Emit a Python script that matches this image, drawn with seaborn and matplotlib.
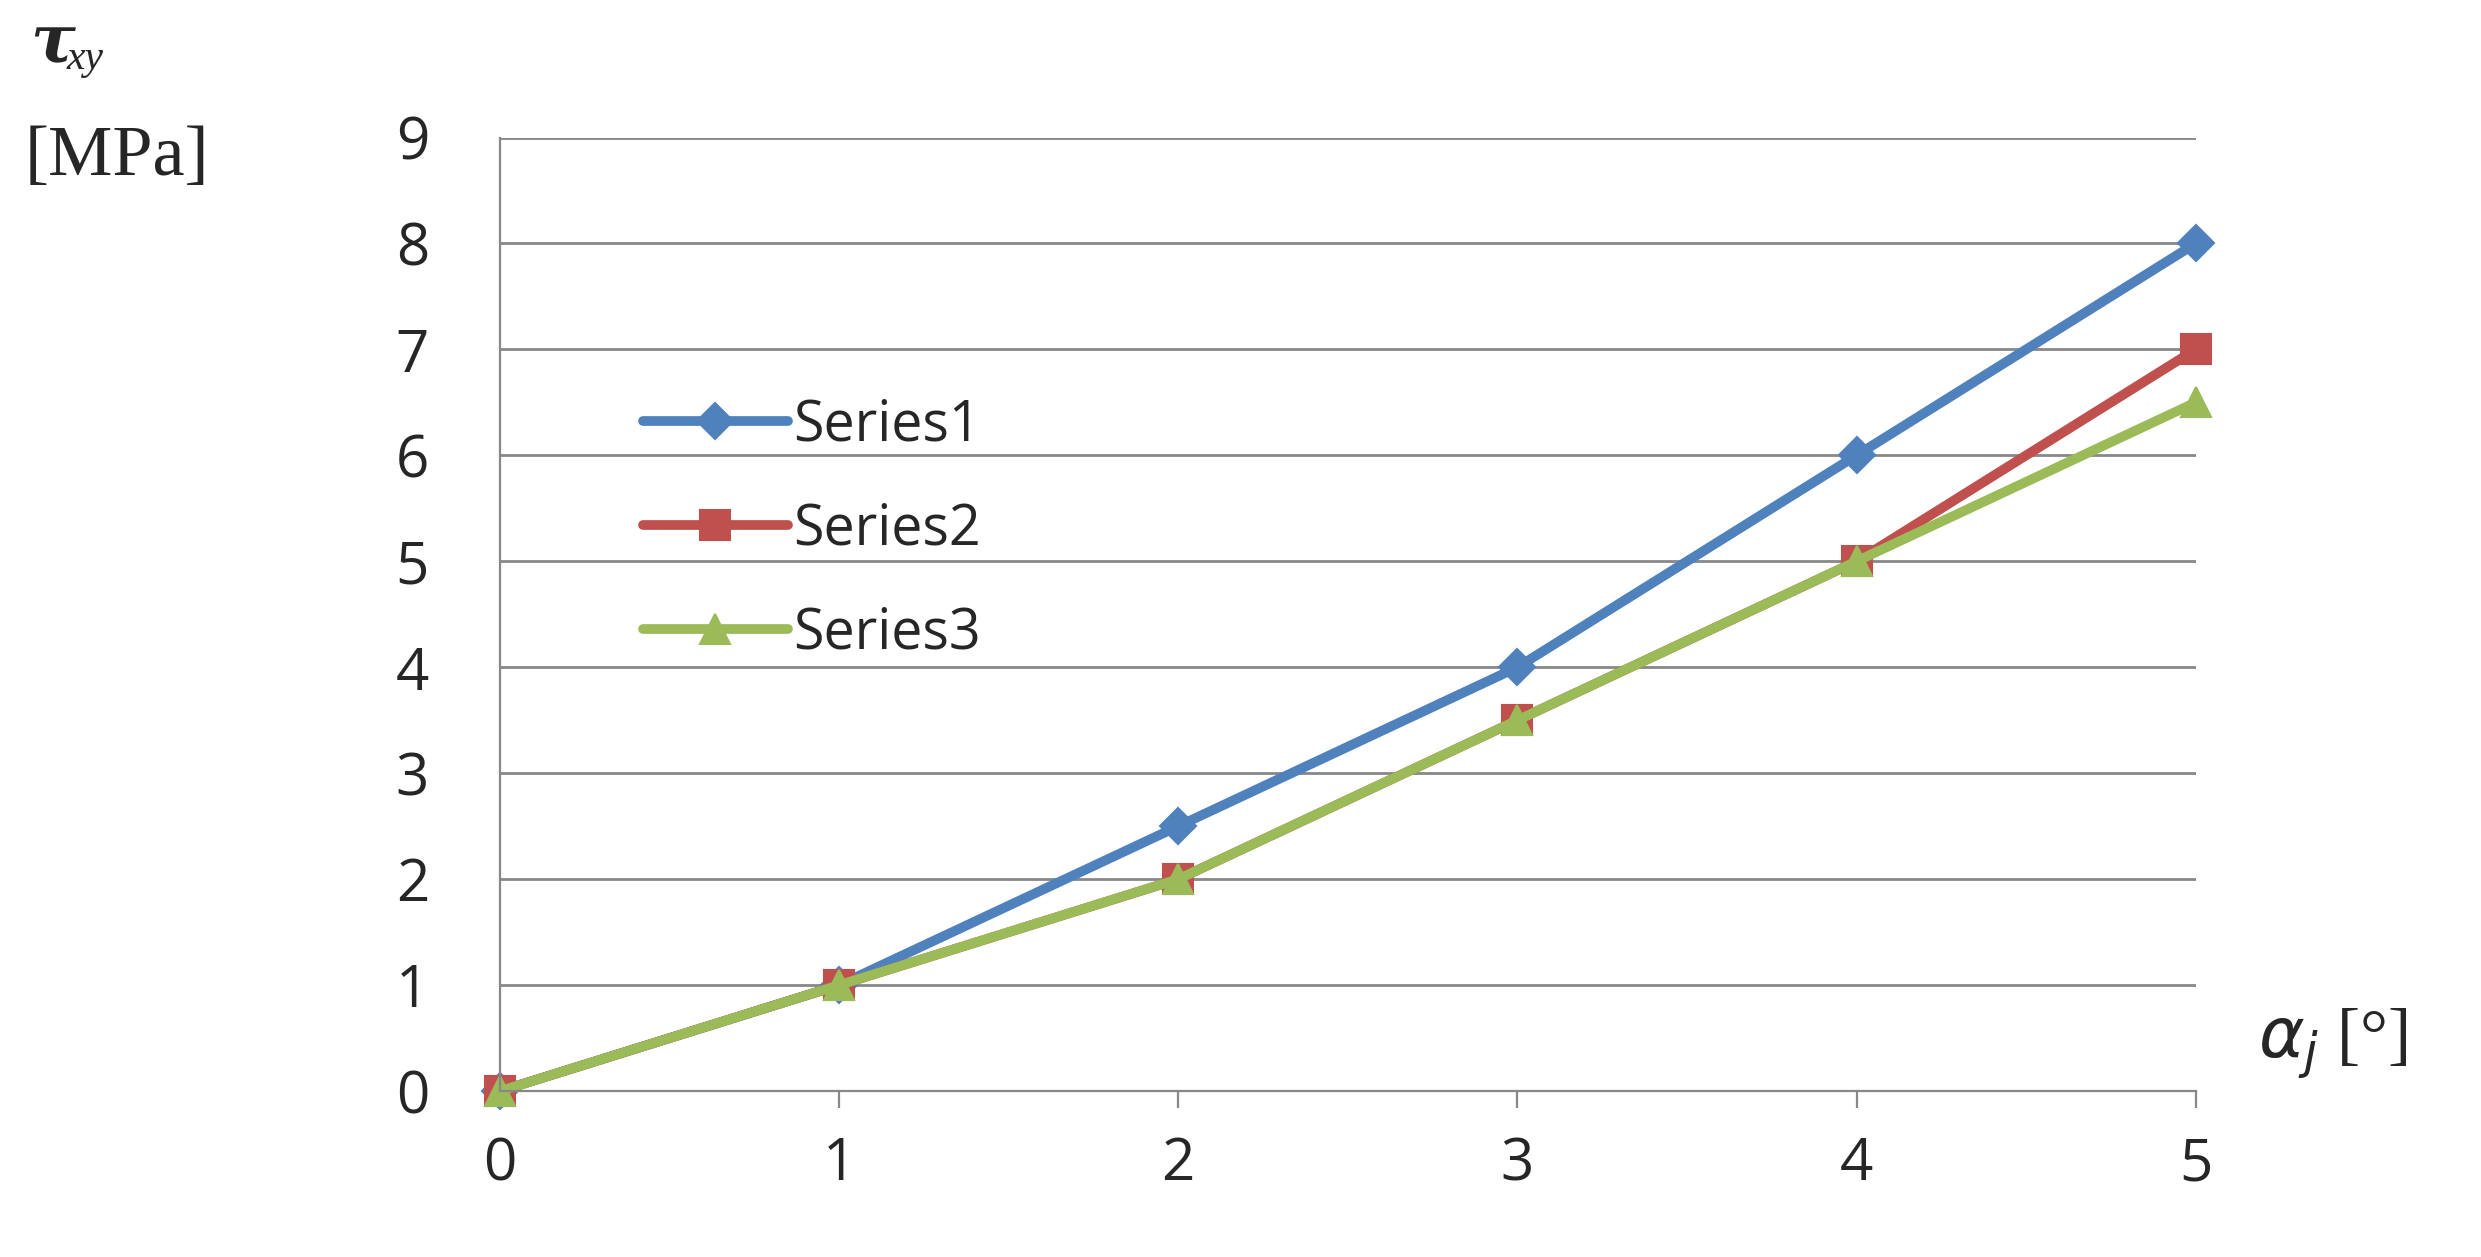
import matplotlib
matplotlib.use("Agg")
import matplotlib.pyplot as plt
import seaborn as sns
import pandas as pd

x = [0, 1, 2, 3, 4, 5]
series1 = [0, 1, 2.5, 4, 6, 8]
series2 = [0, 1, 2, 3.5, 5, 7]
series3 = [0, 1, 2, 3.5, 5, 6.5]
names = ["Series1", "Series2", "Series3"]
colors = ["#4F81BD", "#C0504D", "#9BBB59"]
markers = ["D", "s", "^"]

df = pd.concat([pd.DataFrame({"x": x, "y": v, "s": n}) for v, n in zip([series1, series2, series3], names)])

sns.set_style("white")
plt.rcParams['font.family'] = ['Open Sans', 'DejaVu Sans']
fig = plt.figure(figsize=(12.405, 6.285), dpi=200)
ax = fig.add_axes([0.2015, 0.132, 0.6835, 0.7586])
for n, c, m in zip(names, colors, markers):
    sns.lineplot(data=df[df.s == n], x="x", y="y", color=c, marker=m, markersize=11 if m != "D" else 9,
                 markeredgecolor=c, linewidth=3.5, label=n, ax=ax)
ax.set_xlim(0, 5)
ax.set_ylim(0, 9)
ax.set_xticks(range(6))
ax.set_yticks(range(10))
ax.grid(axis="y", color="#888888", linewidth=1)
ax.grid(axis="x", visible=False)
for s in ["top", "right"]:
    ax.spines[s].set_visible(False)
for s in ["left", "bottom"]:
    ax.spines[s].set_color("#888888")
ax.tick_params(axis="x", bottom=True, length=6, color="#888888", labelsize=21, pad=10)
ax.tick_params(axis="y", left=False, labelsize=21, pad=22)
ax.set_xlabel("")
ax.set_ylabel("")
for c in ax.lines:
    c.set_clip_on(False)
leg = ax.legend(loc="upper left", bbox_to_anchor=(0.055, 0.78), frameon=False, fontsize=20,
                handlelength=2.6, labelspacing=0.85, handletextpad=0.1)
fig.text(0.012, 0.965, "τ", fontsize=24, family="DejaVu Serif", weight="bold", style="italic", va="center")
fig.text(0.027, 0.953, "xy", fontsize=15, family="Liberation Serif", style="italic", va="center")
fig.text(0.01, 0.875, "[MPa]", fontsize=26, family="Liberation Serif", va="center")
fig.text(0.91, 0.17, r"$\alpha_j$ [°]", fontsize=25, family="Liberation Serif", va="center")
fig.savefig("out.png", dpi=200)
